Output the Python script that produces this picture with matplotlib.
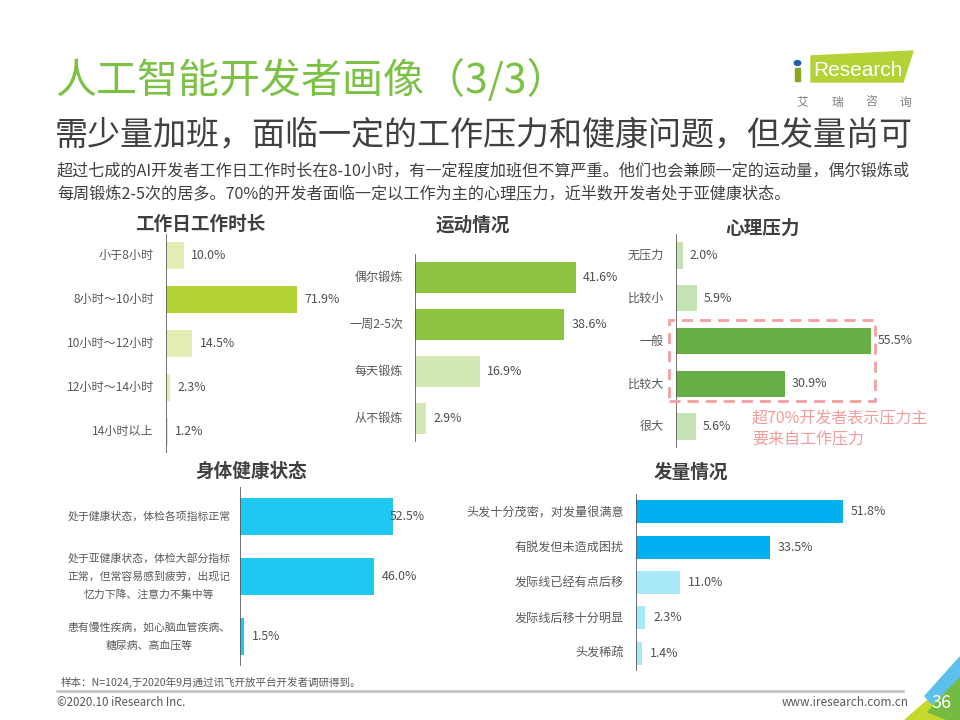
import matplotlib
matplotlib.use('Agg')
import matplotlib.pyplot as plt
from matplotlib.patches import Rectangle, Polygon, Circle

plt.rcParams['font.family'] = ['Noto Sans CJK SC', 'DejaVu Sans']

# ---------------------------------------------------------------- datos
hours_labels = ['小于8小时', '8小时～10小时', '10小时～12小时', '12小时～14小时', '14小时以上']
hours_values = [10.0, 71.9, 14.5, 2.3, 1.2]

sport_labels = ['偶尔锻炼', '一周2-5次', '每天锻炼', '从不锻炼']
sport_values = [41.6, 38.6, 16.9, 2.9]

stress_labels = ['无压力', '比较小', '一般', '比较大', '很大']
stress_values = [2.0, 5.9, 55.5, 30.9, 5.6]

health_labels = ['处于健康状态，体检各项指标正常',
                 '处于亚健康状态，体检大部分指标\n正常，但常容易感到疲劳，出现记\n忆力下降、注意力不集中等',
                 '患有慢性疾病，如心脑血管疾病、\n糖尿病、高血压等']
health_values = [52.5, 46.0, 1.5]

hair_labels = ['头发十分茂密，对发量很满意', '有脱发但未造成困扰', '发际线已经有点后移',
               '发际线后移十分明显', '头发稀疏']
hair_values = [51.8, 33.5, 11.0, 2.3, 1.4]

# ---------------------------------------------------------------- figura
W, H = 960, 720
fig = plt.figure(figsize=(W / 100, H / 100), dpi=100)
TXT = '#595959'


def fx(x):
    return x / W


def fy(y):
    return 1 - y / H


def caja(l, t, r, b):
    return [l / W, 1 - b / H, (r - l) / W, (b - t) / H]


def panel(labels, values, colors, left, top, bottom, bar_end, title, tx, ty,
          bar_h=0.62, fs=8.7, lab_gap=12, val_gap=7, lab_center=None, val_cap=None):
    width = 260
    ax = fig.add_axes(caja(left, top, left + width, bottom))
    n = len(values)
    scale = (bar_end - left) / max(values)       # px por %
    ax.barh(range(n), values, height=bar_h, color=colors, edgecolor='none')
    ax.set_xlim(0, width / scale)
    ax.set_ylim(n - 0.5, -0.5)
    ax.axis('off')
    ax.axvline(0, color=TXT, lw=1.2)
    for i, (lab, v) in enumerate(zip(labels, values)):
        if lab_center is None:
            ax.annotate(lab, xy=(0, i), xytext=(-lab_gap, 0), textcoords='offset pixels',
                        ha='right', va='center', fontsize=fs, color=TXT, annotation_clip=False)
        else:
            ax.annotate(lab, xy=(0, i), xytext=(lab_center - left, 0), textcoords='offset pixels',
                        ha='center', va='center', fontsize=fs, color=TXT, linespacing=1.9,
                        multialignment='center', annotation_clip=False)
        xv = v if val_cap is None else min(v, val_cap / scale)
        ax.annotate(f'{v:.1f}%', xy=(xv, i), xytext=(val_gap, 0), textcoords='offset pixels',
                    ha='left', va='center', fontsize=8.9, color='#505050', annotation_clip=False)
    fig.text(fx(tx), fy(ty), title, ha='center', va='center', fontsize=13.4,
             fontweight='bold', color='#3F3F3F')
    return ax


# ---------------------------------------------------------------- cabecera
fig.text(fx(55), fy(80), '人工智能开发者画像（3/3）', fontsize=29.5, color='#7BC143',
         ha='left', va='center')
fig.text(fx(55), fy(135), '需少量加班，面临一定的工作压力和健康问题，但发量尚可',
         fontsize=23.8, color='#404040', ha='left', va='center')
fig.text(fx(57), fy(171), '超过七成的AI开发者工作日工作时长在8-10小时，有一定程度加班但不算严重。'
         '他们也会兼顾一定的运动量，偶尔锻炼或', fontsize=11.6, color='#404040', ha='left', va='center')
fig.text(fx(57), fy(194), '每周锻炼2-5次的居多。70%的开发者面临一定以工作为主的心理压力，近半数开发者处于亚健康状态。',
         fontsize=11.6, color='#404040', ha='left', va='center')

# logo
fig.patches.append(Polygon([(fx(811), fy(56)), (fx(913), fy(51)), (fx(903), fy(82)), (fx(811), fy(82))],
                           closed=True, color='#B2D235', transform=fig.transFigure))
fig.patches.append(Rectangle((fx(795), fy(81)), 5 / W, 13 / H, color='#8AA51E',
                             transform=fig.transFigure))
fig.patches.append(Circle((fx(797.5), fy(63)), 3.2 / W, color='#1F5FA8', transform=fig.transFigure))
fig.text(fx(813), fy(70), 'Research', fontsize=15, color='white', family='Liberation Sans',
         ha='left', va='center')
for ch, x in zip('艾瑞咨询', [802, 837, 871, 905]):
    fig.text(fx(x), fy(102), ch, fontsize=8.5, color='#7F7F7F', ha='center', va='center')

# ---------------------------------------------------------------- paneles
L1, D1 = '#E1EDB5', '#B3D334'
panel(hours_labels, hours_values, [L1, D1, L1, L1, L1], 166, 234, 453, 297,
      '工作日工作时长', 200, 224)

L2, D2 = '#D4E8B6', '#8DC33F'
panel(sport_labels, sport_values, [D2, D2, L2, L2], 415, 254, 442, 576,
      '运动情况', 473, 225, bar_h=0.64)

L3, D3 = '#C5E2B3', '#67AF45'
panel(stress_labels, stress_values, [L3, L3, D3, D3, L3], 676, 234, 448, 871,
      '心理压力', 763, 228)

panel(health_labels, health_values, ['#1FC8F0'] * 3, 240, 487, 666, 393,
      '身体健康状态', 251, 471, fs=7.8, val_gap=8, lab_center=149, val_cap=142)

L5, D5 = '#A9E8F9', '#00B0F0'
panel(hair_labels, hair_values, [D5, D5, L5, L5, L5], 636, 494, 671, 843,
      '发量情况', 691, 472, bar_h=0.65, val_gap=8)

# cuadro discontinuo y nota
fig.patches.append(Rectangle((fx(669), fy(401)), 206 / W, 81 / H, fill=False,
                             edgecolor='#F4A0A0', lw=2, linestyle=(0, (4, 2.5)),
                             transform=fig.transFigure))
fig.text(fx(752), fy(429), '超70%开发者表示压力主\n要来自工作压力', fontsize=11.5,
         color='#F29C9C', ha='left', va='center', linespacing=1.3)

# ---------------------------------------------------------------- pie
fig.text(fx(61), fy(682), '样本：N=1024,于2020年9月通过讯飞开放平台开发者调研得到。', fontsize=7.6,
         color=TXT, ha='left', va='center')
fig.add_artist(plt.Line2D([fx(57), fx(903)], [fy(691), fy(691)], color='#BFBFBF', lw=1.8))
fig.text(fx(57), fy(703), '©2020.10 iResearch Inc.', fontsize=8.3, color=TXT, ha='left', va='center')
fig.text(fx(909), fy(703), 'www.iresearch.com.cn', fontsize=8.5, color=TXT, ha='right', va='center')

fig.patches.append(Polygon([(fx(905), fy(720)), (fx(960), fy(672)), (fx(960), fy(720))],
                           closed=True, color='#C5D92D', transform=fig.transFigure))
fig.patches.append(Polygon([(fx(928), fy(712)), (fx(960), fy(676)), (fx(960), fy(720)), (fx(948), fy(720))],
                           closed=True, color='#74BB43', transform=fig.transFigure))
fig.patches.append(Polygon([(fx(925), fy(696)), (fx(960), fy(657)), (fx(960), fy(676)), (fx(932), fy(704))],
                           closed=True, color='#5BC0EB', transform=fig.transFigure))
fig.text(fx(942), fy(703), '36', fontsize=13, color='white', ha='center', va='center')

fig.savefig('out.png', dpi=100)
